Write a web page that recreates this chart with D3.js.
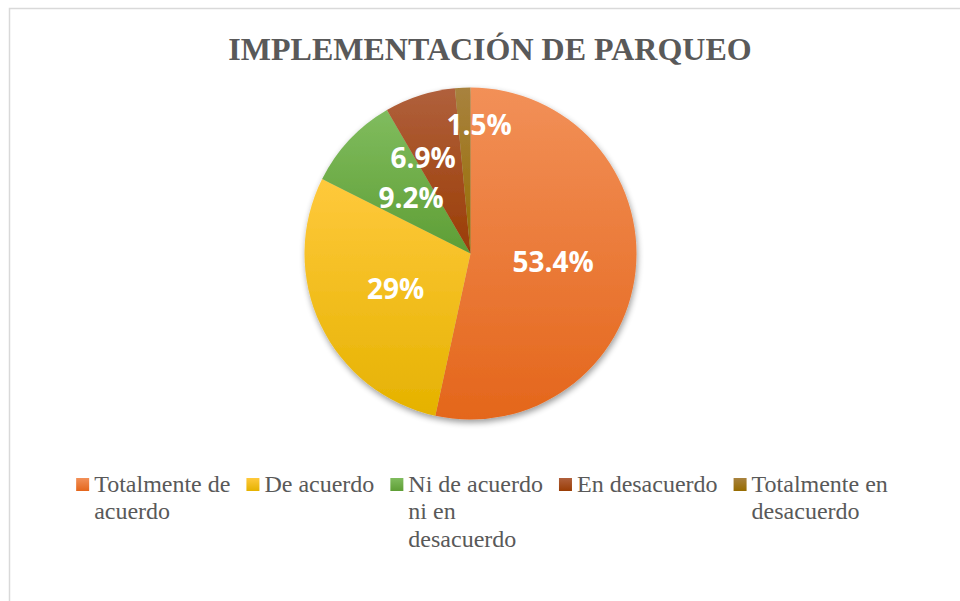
<!DOCTYPE html>
<html><head><meta charset="utf-8">
<script src="https://cdn.jsdelivr.net/npm/d3@7"></script>
<style>body{margin:0;background:#fff} svg{display:block}</style>
</head><body>
<svg id="chart" width="960" height="601"></svg>
<script>
// ---- data ----
const title = "IMPLEMENTACIÓN DE PARQUEO";
const categories = ["Totalmente de acuerdo", "De acuerdo", "Ni de acuerdo ni en desacuerdo", "En desacuerdo", "Totalmente en desacuerdo"];
const values = [53.4, 29, 9.2, 6.9, 1.5];
const valueLabels = ["53.4%", "29%", "9.2%", "6.9%", "1.5%"];

// ---- style / layout ----
const gradTop = ["#F29058", "#FFC93C", "#80BC5E", "#B0603C", "#A8823E"];
const gradBottom = ["#E4661B", "#E5B200", "#5E9E35", "#9A3D05", "#976C00"];
const labelRadiusFactor = [0.5, 0.5, 0.49, 0.643, 0.776];
const labelAngleShift = [0, 0, 0, -8.6, 6.5];

const svg = d3.select("#chart");
const W = 960, H = 601;
const cx = 470.5, cy = 253.5, R = 166;

svg.append("rect").attr("x", 9.5).attr("y", 8.5).attr("width", 980).attr("height", 620)
  .attr("fill", "#fff").attr("stroke", "#d9d9d9").attr("stroke-width", 1.5);

const defs = svg.append("defs");
categories.forEach((c, i) => {
  const g = defs.append("linearGradient").attr("id", "g" + i)
    .attr("x1", 0).attr("y1", 0).attr("x2", 0).attr("y2", 1);
  g.append("stop").attr("offset", "0%").attr("stop-color", gradTop[i]);
  g.append("stop").attr("offset", "100%").attr("stop-color", gradBottom[i]);
});
const f = defs.append("filter").attr("id", "shadow").attr("x", "-20%").attr("y", "-20%").attr("width", "140%").attr("height", "140%");
f.append("feGaussianBlur").attr("in", "SourceAlpha").attr("stdDeviation", 3).attr("result", "b");
f.append("feOffset").attr("in", "b").attr("dx", 1).attr("dy", 3).attr("result", "o");
f.append("feComponentTransfer").attr("in", "o").attr("result", "t")
  .append("feFuncA").attr("type", "linear").attr("slope", 0.4);
const fm = f.append("feMerge");
fm.append("feMergeNode").attr("in", "t");
fm.append("feMergeNode").attr("in", "SourceGraphic");

// title
svg.append("text").attr("x", 490).attr("y", 60).attr("text-anchor", "middle")
  .attr("font-family", "'Liberation Serif','Times New Roman',serif").attr("font-weight", "bold")
  .attr("font-size", 32).attr("fill", "#595959").text(title);

// pie
const pie = d3.pie().sort(null).value(d => d)(values);
const arc = d3.arc().innerRadius(0).outerRadius(R);
const pg = svg.append("g").attr("transform", `translate(${cx},${cy})`);
pg.append("g").attr("filter", "url(#shadow)")
  .selectAll("path").data(pie).join("path")
  .attr("d", arc).attr("fill", (d, i) => `url(#g${i})`);

pg.selectAll("text.lbl").data(pie).join("text").attr("class", "lbl")
  .each(function (d, i) {
    const a = (d.startAngle + d.endAngle) / 2 + labelAngleShift[i] * Math.PI / 180;
    const r = R * labelRadiusFactor[i];
    d3.select(this).attr("x", r * Math.sin(a)).attr("y", -r * Math.cos(a));
  })
  .attr("dy", "0.36em").attr("text-anchor", "middle")
  .attr("font-family", "'Open Sans',sans-serif").attr("font-weight", "bold")
  .attr("font-size", 28).attr("fill", "#fff")
  .text((d, i) => valueLabels[i]);

// legend
const lg = svg.append("g");
const fontSize = 24, lineH = 27.6, maxW = 145, markerSize = 13, gap = 5, itemGap = 16;
let x = 0;
const items = [];
categories.forEach((c, i) => {
  const it = lg.append("g");
  it.append("rect").attr("width", markerSize).attr("height", markerSize)
    .attr("y", -13.5).attr("fill", `url(#g${i})`);
  const t = it.append("text").attr("x", markerSize + gap)
    .attr("font-family", "'Liberation Serif','Times New Roman',serif")
    .attr("font-size", fontSize).attr("fill", "#595959");
  const words = c.split(" ");
  let line = [], lines = [];
  const probe = t.append("tspan");
  words.forEach(w => {
    const test = line.concat(w).join(" ");
    probe.text(test);
    if (probe.node().getComputedTextLength() > maxW && line.length) {
      lines.push(line.join(" "));
      line = [w];
    } else line.push(w);
  });
  lines.push(line.join(" "));
  probe.remove();
  let wmax = 0;
  lines.forEach((l, k) => {
    const ts = t.append("tspan").attr("x", markerSize + gap).attr("y", k * lineH).text(l);
    wmax = Math.max(wmax, ts.node().getComputedTextLength());
  });
  items.push({ g: it, x: x });
  x += markerSize + gap + wmax + itemGap;
});
const total = x - itemGap;
const startX = 482 - total / 2;
items.forEach(o => o.g.attr("transform", `translate(${startX + o.x},491.5)`));
</script>
</body></html>
